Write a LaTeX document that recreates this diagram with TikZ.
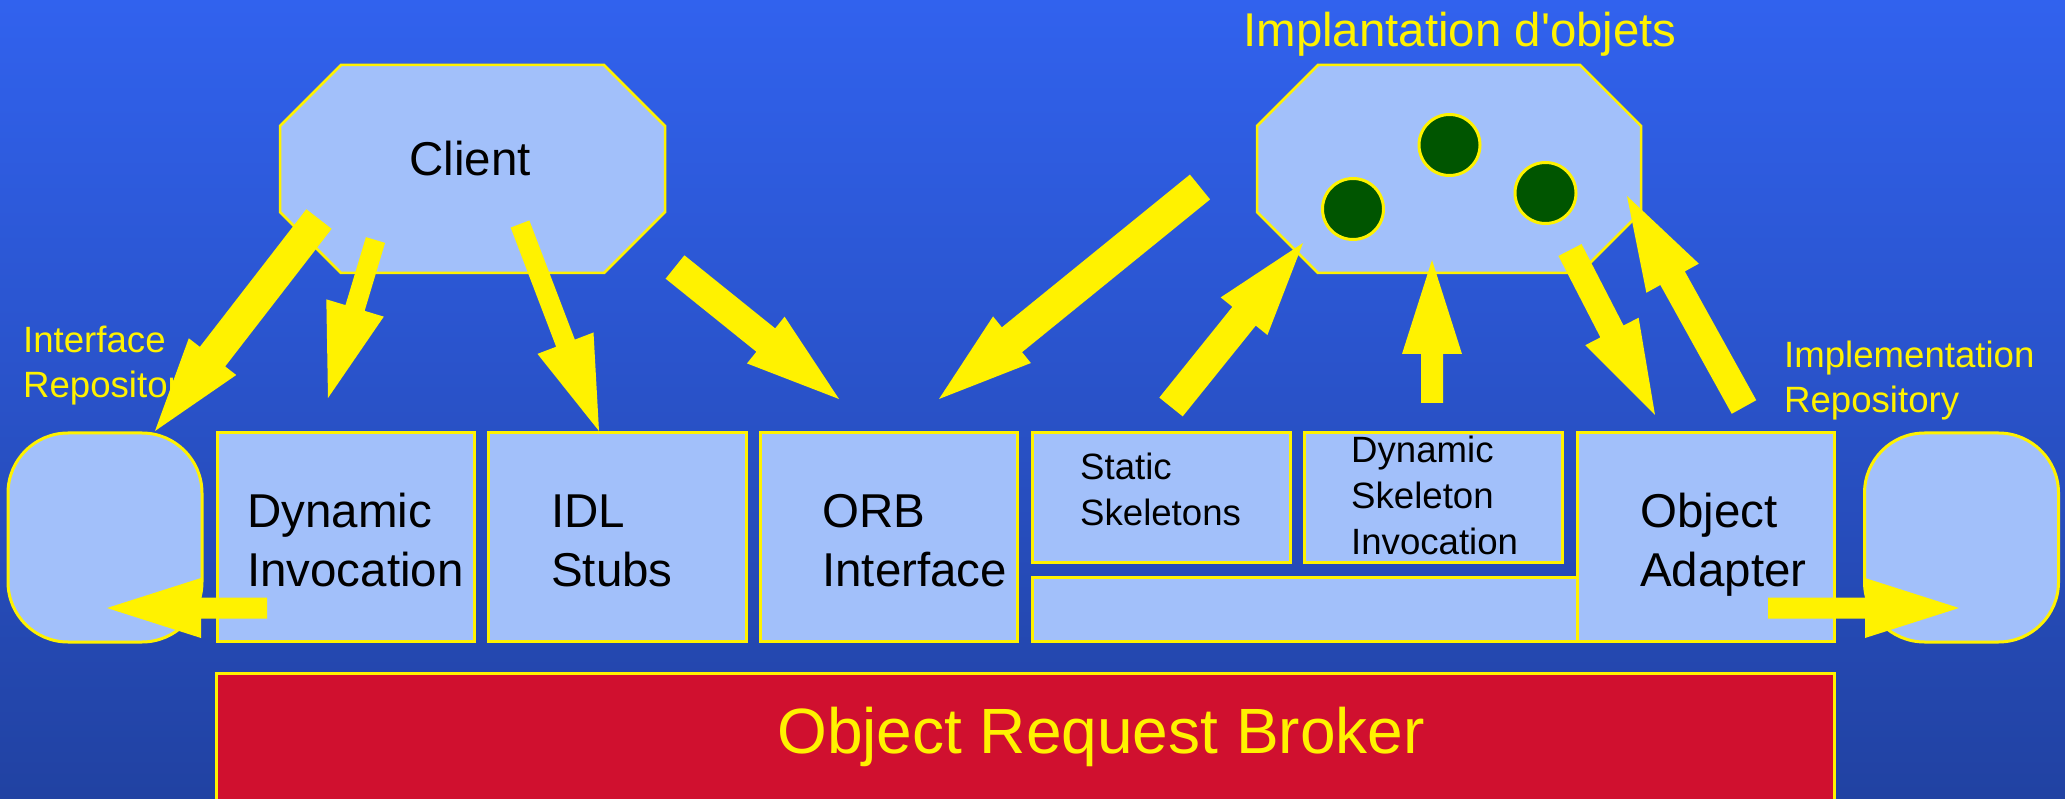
\documentclass[tikz,border=0pt]{standalone}
\usepackage{fontspec}
\setmainfont{Liberation Sans}
\usetikzlibrary{calc}
\definecolor{bgtop}{RGB}{49,98,238}
\definecolor{bgbot}{RGB}{33,66,162}
\definecolor{panel}{RGB}{162,192,250}
\definecolor{orbred}{RGB}{208,16,47}
\definecolor{objgreen}{RGB}{0,85,0}
\newcommand{\fatarrow}[3]{%
  \coordinate (neck) at ($(#3)!94pt!(#2)$);
  \fill [yellow] ($(#2)!#1!90:(#3)$) -- ($(neck)!#1!-90:(#2)$) -- ($(neck)!30pt!-90:(#2)$) -- (#3)
    -- ($(neck)!30pt!90:(#2)$) -- ($(neck)!#1!90:(#2)$) -- ($(#2)!#1!-90:(#3)$) -- cycle;}

\begin{document}
\begin{tikzpicture}[x=1pt,y=-1pt]
\tikzstyle{every node}+=[inner sep=0pt]
\tikzstyle{box}=[draw=yellow, fill=panel, line width=3pt]
\tikzstyle{octo}=[draw=yellow, fill=panel, line width=2.5pt]
\tikzstyle{obj}=[circle, draw=yellow, fill=objgreen, line width=3pt, minimum size=61pt]
\tikzstyle{bigtext}=[font=\fontsize{47.5}{59}\selectfont, align=left, anchor=west]
\tikzstyle{smalltext}=[font=\fontsize{36.6}{46}\selectfont, align=left, anchor=west]
\tikzstyle{sidetext}=[smalltext, text=yellow, font=\fontsize{36.6}{45}\selectfont]
\useasboundingbox (0,0) rectangle (2065,799);
\shade [top color=bgtop, bottom color=bgbot] (0,0) rectangle (2065,799);
\draw [octo] (341,65) -- (604,65) -- (665,126) -- (665,212) -- (604,273) -- (341,273) -- (280,212) -- (280,126) -- cycle;
\node [font=\fontsize{47.5}{59}\selectfont, anchor=base] (client) at (470,176) {Client};
\draw [octo] (1318,65) -- (1580,65) -- (1641,126) -- (1641,212) -- (1580,273) -- (1318,273) -- (1257,212) -- (1257,126) -- cycle;
\node [font=\fontsize{47.4}{59}\selectfont, text=yellow, anchor=base] (impl) at (1460,47) {Implantation d\textquotesingle objets};
\node [obj] (obj1) at (1353,209) {};
\node [obj] (obj2) at (1449.5,145) {};
\node [obj] (obj3) at (1545.5,193) {};
\node [box, rounded corners=60pt, minimum width=194pt, minimum height=209pt] (ir) at (105,537.5) {};
\node [box, minimum width=257pt, minimum height=208pt] (dinv) at (345.5,537) {};
\node [box, minimum width=258pt, minimum height=208pt] (idl) at (617,537) {};
\node [box, minimum width=257pt, minimum height=208pt] (orbi) at (888.5,537) {};
\node [box, minimum width=258pt, minimum height=129pt] (stsk) at (1161,497.5) {};
\node [box, minimum width=258pt, minimum height=129pt] (dsk) at (1433,497.5) {};
\node [box, minimum width=545pt, minimum height=64pt] (bar) at (1304.5,609) {};
\node [box, minimum width=257pt, minimum height=208pt] (oa) at (1705.5,537) {};
\node [box, rounded corners=60pt, minimum width=194pt, minimum height=209pt] (impr) at (1961.5,537.5) {};
\node [box, fill=orbred, minimum width=1618pt, minimum height=157pt] (orb) at (1025,751.5) {};
\node [bigtext] (dinv-t) at (247,540.5) {Dynamic\\Invocation};
\node [bigtext] (idl-t) at (551,540.5) {IDL\\Stubs};
\node [bigtext] (orbi-t) at (822,540.5) {ORB\\Interface};
\node [bigtext] (oa-t) at (1640,545) {Object\\Adapter};
\node [smalltext] (stsk-t) at (1080,489.7) {Static\\Skeletons};
\node [smalltext] (dsk-t) at (1351,495.7) {Dynamic\\Skeleton\\Invocation};
\node [sidetext] (ir-t) at (23,366) {Interface\\Repository};
\node [sidetext] (impr-t) at (1784,381) {Implementation\\Repository};
\node [font=\fontsize{64}{70}\selectfont, text=yellow, anchor=base] (orb-t) at (1101,753) {Object Request Broker};
\coordinate (cl-ir) at (319,219);
\coordinate (ir-in) at (155,431);
\coordinate (cl-di) at (375.5,240);
\coordinate (di-in) at (328,398);
\coordinate (cl-idl) at (520,224);
\coordinate (idl-in) at (599,431);
\coordinate (cl-orb) at (675,267);
\coordinate (orb-in) at (839,399);
\coordinate (im-orb) at (1200,187);
\coordinate (orb-in2) at (939,399);
\coordinate (st-out) at (1171,407);
\coordinate (im-in1) at (1303,243);
\coordinate (ds-out) at (1432,403);
\coordinate (im-in2) at (1432,260);
\coordinate (im-oa) at (1570,250);
\coordinate (oa-in) at (1655,415);
\coordinate (oa-out) at (1744,407);
\coordinate (im-in3) at (1627,196);
\coordinate (di-out) at (267,608);
\coordinate (ir-in2) at (107,608);
\coordinate (oa-out2) at (1768,608);
\coordinate (impr-in) at (1959,608);
\fatarrow{16pt}{cl-ir}{ir-in}
\fatarrow{10pt}{cl-di}{di-in}
\fatarrow{10pt}{cl-idl}{idl-in}
\fatarrow{15pt}{cl-orb}{orb-in}
\fatarrow{16pt}{im-orb}{orb-in2}
\fatarrow{15pt}{st-out}{im-in1}
\fatarrow{11pt}{ds-out}{im-in2}
\fatarrow{13pt}{im-oa}{oa-in}
\fatarrow{14pt}{oa-out}{im-in3}
\fatarrow{10.5pt}{di-out}{ir-in2}
\fatarrow{10.5pt}{oa-out2}{impr-in}
\end{tikzpicture}
\end{document}
